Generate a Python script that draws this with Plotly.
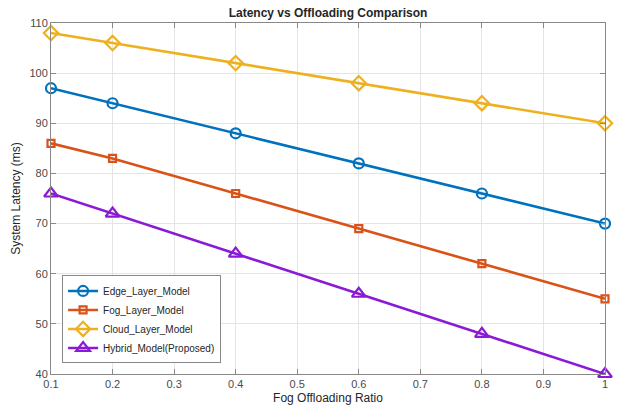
import plotly.graph_objects as go

# Offloading ratios and per-model latency (ms)
fog_ratio = [0.1, 0.2, 0.4, 0.6, 0.8, 1.0]
edge_latency = [97, 94, 88, 82, 76, 70]
fog_latency = [86, 83, 76, 69, 62, 55]
cloud_latency = [108, 106, 102, 98, 94, 90]
hybrid_latency = [76, 72, 64, 56, 48, 40]

series = [
    ("Edge_Layer_Model", edge_latency, "#0072BD", "circle-open", 10),
    ("Fog_Layer_Model", fog_latency, "#D95319", "square-open", 7),
    ("Cloud_Layer_Model", cloud_latency, "#EDB120", "diamond-open", 11),
    ("Hybrid_Model(Proposed)", hybrid_latency, "#8A1AD6", "triangle-up-open", 12),
]

fig = go.Figure()
for name, ys, color, symbol, size in series:
    fig.add_trace(go.Scatter(
        x=fog_ratio, y=ys, name=name, mode="lines+markers",
        line=dict(color=color, width=2.6),
        marker=dict(symbol=symbol, size=size, color=color,
                    line=dict(color=color, width=2.2)),
        cliponaxis=False,
    ))

axis_common = dict(
    showgrid=True, gridcolor="#e4e4e4", gridwidth=1,
    showline=True, linecolor="#888888", linewidth=1, mirror="ticks",
    ticks="inside", ticklen=5, tickcolor="#888888",
    tickfont=dict(family="Liberation Sans, Arial", size=11, color="#4a4a4a"),
    zeroline=False, automargin=False,
)

fig.update_xaxes(
    range=[0.1, 1.0], tickvals=[0.1, 0.2, 0.3, 0.4, 0.5, 0.6, 0.7, 0.8, 0.9, 1.0],
    ticktext=["0.1", "0.2", "0.3", "0.4", "0.5", "0.6", "0.7", "0.8", "0.9", "1"],
    title=dict(text="Fog Offloading Ratio", standoff=4,
               font=dict(family="Liberation Sans, Arial", size=12, color="#262626")),
    **axis_common,
)
fig.update_yaxes(
    range=[40, 110], tickvals=[40, 50, 60, 70, 80, 90, 100, 110],
    title=dict(text="System Latency (ms)", standoff=6,
               font=dict(family="Liberation Sans, Arial", size=12, color="#262626")),
    **axis_common,
)

fig.update_layout(
    width=618, height=410,
    margin=dict(l=51, r=13, t=23, b=36),
    paper_bgcolor="white", plot_bgcolor="white",
    title=dict(text="<b>Latency vs Offloading Comparison</b>", x=0.5, xanchor="center",
               xref="paper", y=1, yref="container", yanchor="top", pad=dict(t=9),
               font=dict(family="Liberation Sans, Arial", size=12, color="#262626")),
    showlegend=True,
    legend=dict(
        x=0.02, y=0.03, xanchor="left", yanchor="bottom",
        bgcolor="white", bordercolor="#888888", borderwidth=1,
        font=dict(family="Liberation Sans, Arial", size=10, color="#262626"),
        tracegroupgap=0, itemwidth=30,
    ),
)

fig.write_html("out.html")
